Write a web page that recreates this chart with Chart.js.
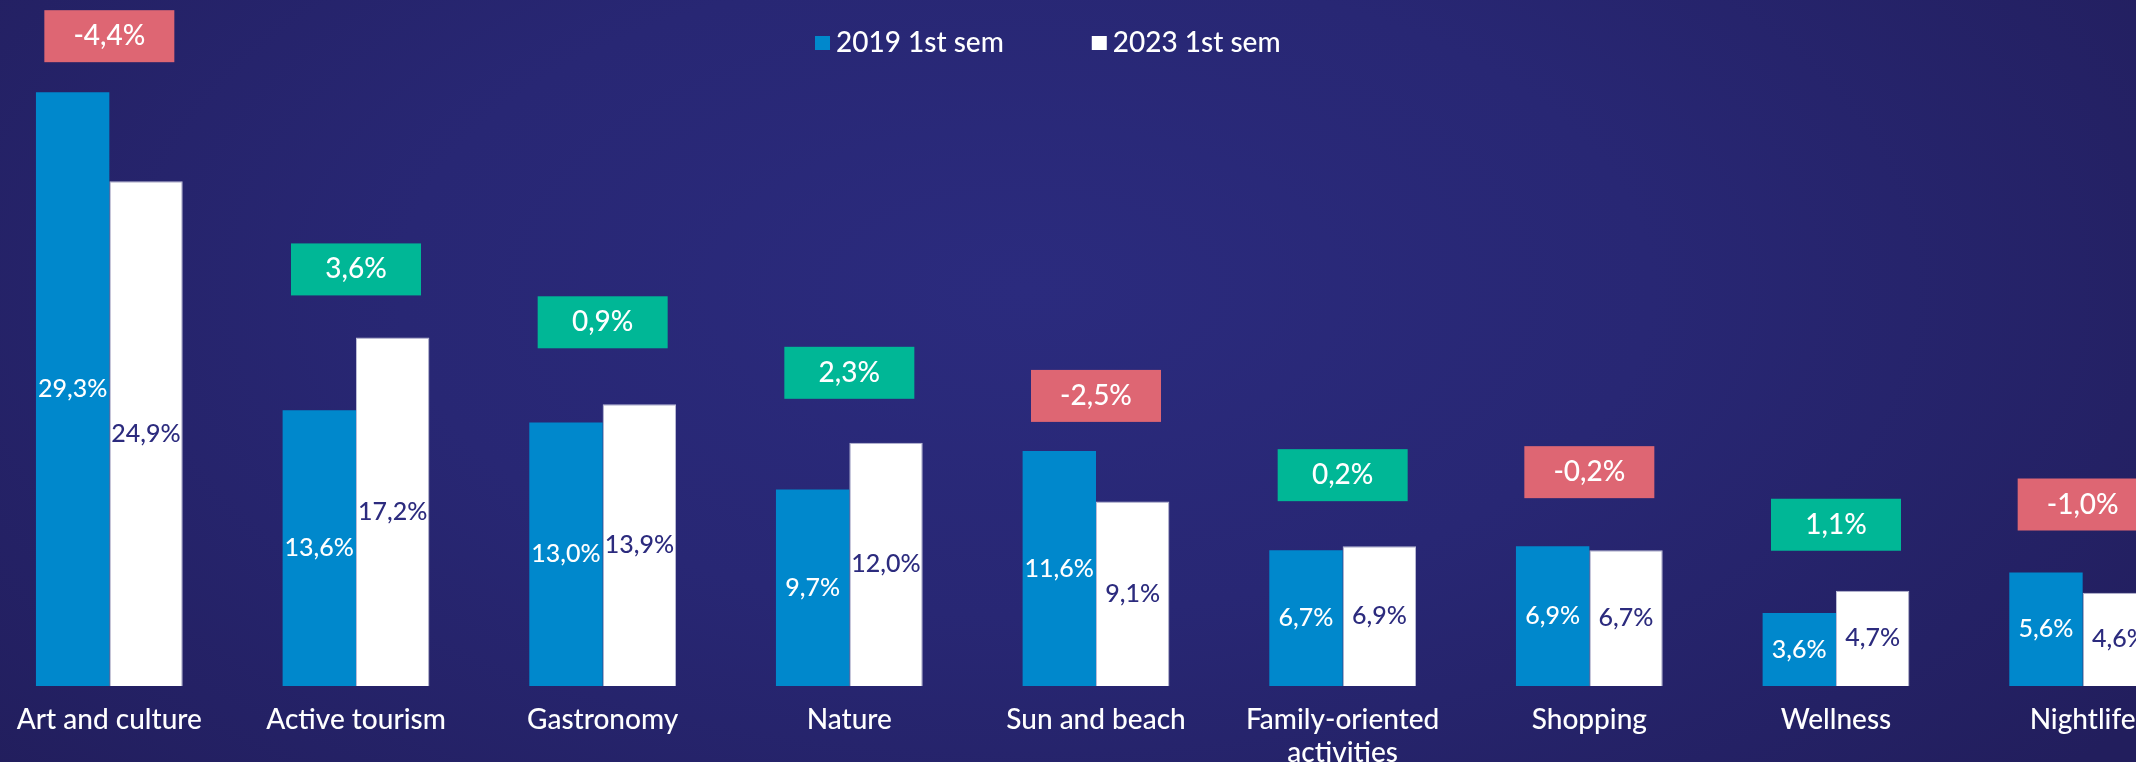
<!DOCTYPE html>
<html>
<head>
<meta charset="utf-8">
<script src="https://cdn.jsdelivr.net/npm/chart.js@4.4.0/dist/chart.umd.min.js"></script>
<style>
  html, body { margin: 0; padding: 0; }
  body {
    width: 2136px; height: 762px; overflow: hidden; position: relative;
    background: radial-gradient(ellipse 65% 95% at 48% 38%, #2b2b7e 0%, #282774 45%, #221e5d 100%);
  }
  #wrap { position: absolute; left: -14px; top: 0; width: 2220px; height: 762px; }
</style>
</head>
<body>
<div id="wrap"><canvas id="motivos" width="2220" height="762"></canvas></div>
<script>
const categorias = ['Art and culture', 'Active tourism', 'Gastronomy', 'Nature', 'Sun and beach',
  ['Family-oriented', 'activities'], 'Shopping', 'Wellness', 'Nightlife'];
const series = ['2019 1st sem', '2023 1st sem'];
const sem2019 = [29.3, 13.6, 13.0, 9.7, 11.6, 6.7, 6.9, 3.6, 5.6];
const sem2023 = [24.9, 17.2, 13.9, 12.0, 9.1, 6.9, 6.7, 4.7, 4.6];
const variacion = [-4.4, 3.6, 0.9, 2.3, -2.5, 0.2, -0.2, 1.1, -1.0];

// espacio (px) entre la barra mas alta y la caja de variacion
const separacion = [30, 42, 56, 44, 29, 45, 48, 40, 42];

function fmt(v) {
    return v.toFixed(1).replace('.', ',') + '%';
}

const etiquetas = {
    id: 'etiquetas',
    afterDatasetsDraw(chart) {
        const ctx = chart.ctx;
        ctx.save();

        // valores dentro de las barras
        ctx.font = '500 25px Lato';
        ctx.textAlign = 'center';
        ctx.textBaseline = 'middle';
        chart.data.datasets.forEach((ds, d) => {
            chart.getDatasetMeta(d).data.forEach((bar, i) => {
                ctx.fillStyle = d === 0 ? '#ffffff' : '#2c2b7e';
                ctx.fillText(fmt(ds.data[i]), bar.x, (bar.y + bar.base) / 2);
            });
        });

        // cajas de variacion
        const xs = chart.scales.x;
        const m0 = chart.getDatasetMeta(0).data;
        const m1 = chart.getDatasetMeta(1).data;
        ctx.font = '500 28px Lato';
        variacion.forEach((v, i) => {
            const cx = xs.getPixelForValue(i);
            const bottom = Math.min(m0[i].y, m1[i].y) - separacion[i];
            ctx.fillStyle = v < 0 ? '#de6673' : '#00b796';
            ctx.fillRect(cx - 65, bottom - 52, 130, 52);
            ctx.fillStyle = '#ffffff';
            ctx.fillText(fmt(v), cx, bottom - 26);
        });

        // leyenda
        ctx.textAlign = 'left';
        ctx.textBaseline = 'alphabetic';
        let x = 829;
        chart.data.datasets.forEach((ds) => {
            ctx.fillStyle = ds.backgroundColor;
            ctx.fillRect(x, 36, 15, 14);
            ctx.fillStyle = '#ffffff';
            ctx.fillText(ds.label, x + 21, 52);
            x += 21 + ctx.measureText(ds.label).width + 88;
        });

        ctx.restore();
    }
};

function renderChart() {
    const ctx = document.getElementById('motivos').getContext('2d');
    new Chart(ctx, {
        type: 'bar',
        data: {
            labels: categorias,
            datasets: [{
                label: series[0],
                data: sem2019,
                backgroundColor: '#0088cc',
                borderWidth: 0
            }, {
                label: series[1],
                data: sem2023,
                backgroundColor: '#ffffff',
                borderColor: '#bcbcd6',
                borderWidth: 1
            }]
        },
        options: {
            responsive: false,
            animation: false,
            categoryPercentage: 0.595,
            barPercentage: 1.0,
            layout: { padding: { top: 78, left: 0, right: 0, bottom: 0 } },
            plugins: {
                legend: { display: false },
                tooltip: { enabled: false }
            },
            scales: {
                x: {
                    grid: { display: false, drawTicks: false },
                    border: { display: false },
                    ticks: {
                        color: '#ffffff',
                        font: { family: 'Lato', size: 28, weight: '500', lineHeight: 1.2 },
                        padding: 17,
                        maxRotation: 0,
                        autoSkip: false
                    },
                    afterFit(scale) { scale.height = 76; }
                },
                y: { display: false, min: 0, max: 30 }
            }
        },
        plugins: [etiquetas]
    });
}

document.fonts.load('500 28px Lato').then(renderChart, renderChart);
</script>
</body>
</html>
